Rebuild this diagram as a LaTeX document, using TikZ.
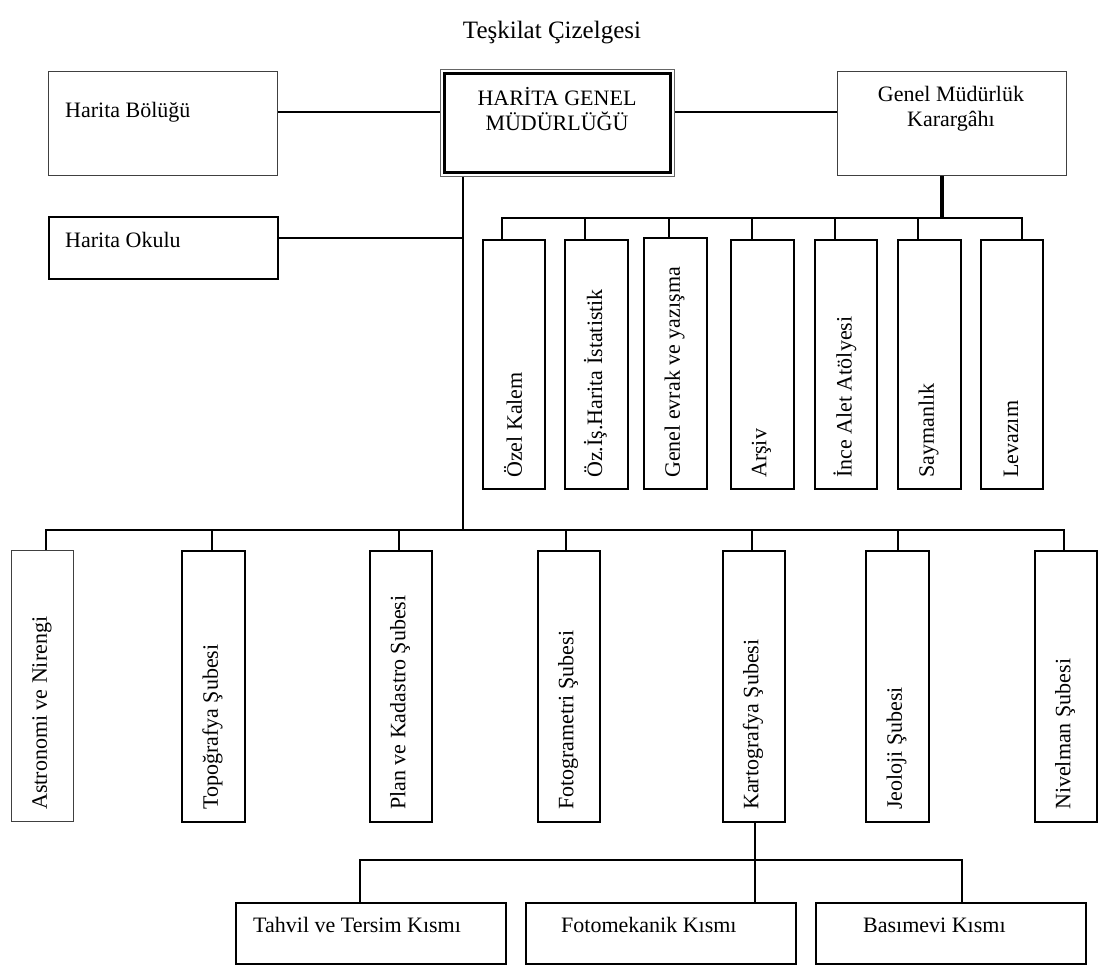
\documentclass[tikz,border=0pt]{standalone}
\usepackage{fontspec}
\setmainfont{Liberation Serif}
\begin{document}
\begin{tikzpicture}[x=1pt,y=-1pt,
  bx/.style={draw, line width=1.8pt, inner sep=0pt, anchor=north west},
  thinbx/.style={draw=black!75, line width=1.1pt, inner sep=0pt, anchor=north west},
  ln/.style={line width=1.8pt},
  thinln/.style={line width=1.1pt},
  txt/.style={inner sep=0pt, font=\fontsize{22}{25}\selectfont},
  vtxt/.style={txt, rotate=90, anchor=west},
]
\useasboundingbox (0,0) rectangle (1105,967);

% title
\node[inner sep=0pt, font=\fontsize{25}{29}\selectfont] (title) at (552,33) {Teşkilat Çizelgesi};

% top row
\node[thinbx, minimum width=229, minimum height=104] (bolugu) at (48,71) {};
\node[txt, anchor=west] (tbolugu) at (65,112) {Harita Bölüğü};
\node[bx, minimum width=229, minimum height=62] (okulu) at (48,216) {};
\node[txt, anchor=west] (tokulu) at (65,240) {Harita Okulu};
\node[draw=black!60, line width=1pt, inner sep=0pt, anchor=north west, minimum width=234, minimum height=107] (hgm) at (440,69) {};
\node[draw, line width=3pt, inner sep=0pt, minimum width=226, minimum height=99] (hgmin) at (hgm.center) {};
\node[txt, align=center] (thgm) at (557,109) {HARİTA GENEL\\MÜDÜRLÜĞÜ};
\node[thinbx, minimum width=229, minimum height=104] (gmk) at (837,71) {};
\node[txt, align=center] (tgmk) at (951,109) {Genel Müdürlük\\Karargâhı};

% staff boxes
\node[bx, minimum width=62, minimum height=249] (ozel) at (482,239) {};
\node[bx, minimum width=63, minimum height=249] (ozis) at (564,239) {};
\node[bx, minimum width=63, minimum height=251] (evrak) at (643,237) {};
\node[bx, minimum width=63, minimum height=249] (arsiv) at (730,239) {};
\node[bx, minimum width=62, minimum height=249] (ince) at (814,239) {};
\node[bx, minimum width=63, minimum height=249] (sayman) at (897,239) {};
\node[bx, minimum width=62, minimum height=249] (levazim) at (980,239) {};
\node[vtxt] (tozel) at (513,478) {Özel Kalem};
\node[vtxt] (tozis) at (595.5,478) {Öz.İş.Harita İstatistik};
\node[vtxt] (tevrak) at (674.5,478) {Genel evrak ve yazışma};
\node[vtxt] (tarsiv) at (761.5,478) {Arşiv};
\node[vtxt] (tince) at (845,478) {İnce Alet Atölyesi};
\node[vtxt] (tsayman) at (928.5,478) {Saymanlık};
\node[vtxt] (tlevazim) at (1011,478) {Levazım};

% branch boxes
\node[thinbx, minimum width=62, minimum height=271] (astro) at (11,550) {};
\node[bx, minimum width=63, minimum height=271] (topo) at (181,550) {};
\node[bx, minimum width=62, minimum height=271] (plan) at (369,550) {};
\node[bx, minimum width=62, minimum height=271] (foto) at (537,550) {};
\node[bx, minimum width=62, minimum height=271] (karto) at (722,550) {};
\node[bx, minimum width=63, minimum height=271] (jeo) at (865,550) {};
\node[bx, minimum width=62, minimum height=271] (niv) at (1034,550) {};
\node[vtxt] (tastro) at (42,810) {Astronomi ve Nirengi};
\node[vtxt] (ttopo) at (212.5,810) {Topoğrafya Şubesi};
\node[vtxt] (tplan) at (400,810) {Plan ve Kadastro Şubesi};
\node[vtxt] (tfoto) at (568,810) {Fotogrametri Şubesi};
\node[vtxt] (tkarto) at (753,810) {Kartografya Şubesi};
\node[vtxt] (tjeo) at (896.5,810) {Jeoloji Şubesi};
\node[vtxt] (tniv) at (1065,810) {Nivelman Şubesi};

% sections
\node[bx, minimum width=270, minimum height=61] (tahvil) at (235,902) {};
\node[bx, minimum width=270, minimum height=61] (fotomek) at (525,902) {};
\node[bx, minimum width=270, minimum height=61] (basim) at (815,902) {};
\node[txt, anchor=west] (ttahvil) at (253,925) {Tahvil ve Tersim Kısmı};
\node[txt, anchor=west] (tfotomek) at (561,925) {Fotomekanik Kısmı};
\node[txt, anchor=west] (tbasim) at (863,925) {Basımevi Kısmı};

% connectors
\coordinate (busT) at (502,218);
\coordinate (busB) at (463,530);
\coordinate (busK) at (360,860);
\draw[ln] (bolugu.east |- 0,112) -- (hgm.west |- 0,112);
\draw[ln] (hgm.east |- 0,112) -- (gmk.west |- 0,112);
\draw[ln] (hgm.south -| busB) -- (busB);
\draw[ln] (okulu.east |- 0,238) -- (busB |- 0,238);
\draw[line width=4pt] (gmk.south -| 942,0) -- (942,218);
\draw[ln] (ozel.north -| busT) -- (busT) -- (1022,218) -- (levazim.north -| 1022,0);
\foreach \n/\x in {ozis/585, evrak/669, arsiv/752, ince/835, sayman/918}
  \draw[ln] (\x,218) -- (\n.north -| \x,0);
\draw[ln] (astro.north -| 46,0) -- (46,530) -- (1064,530) -- (niv.north -| 1064,0);
\foreach \n/\x in {topo/212, plan/399, foto/566, karto/752, jeo/898}
  \draw[ln] (\x,530) -- (\n.north -| \x,0);
\draw[thinln] (karto.south -| 755,0) -- (fotomek.north -| 755,0);
\draw[thinln] (tahvil.north -| busK) -- (busK) -- (962,860) -- (basim.north -| 962,0);
\end{tikzpicture}
\end{document}
